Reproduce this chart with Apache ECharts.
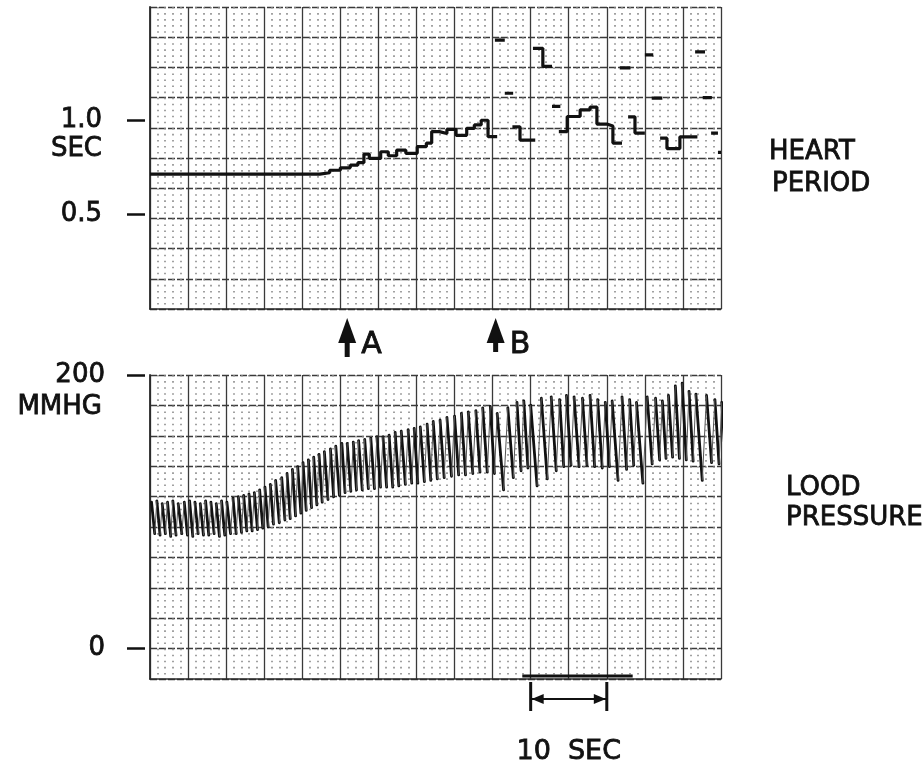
<!DOCTYPE html>
<html>
<head>
<meta charset="utf-8">
<title>Heart period and blood pressure</title>
<script src="https://cdn.jsdelivr.net/npm/echarts@6/dist/echarts.min.js"></script>
<style>
  html, body { margin: 0; padding: 0; background: #fff; }
  #chart { width: 922px; height: 769px; }
</style>
</head>
<body>
<div id="chart"></div>
<script>
// heart period trace: one horizontal pen segment per beat (time in sec, period in sec)
const hpStart = [0, 22.3, 23.6, 25.0, 26.3, 27.3, 28.1, 28.8, 30.3, 31.3, 32.4, 33.6, 35.1, 36.3, 37.0, 38.0,
  39.0, 40.2, 41.6, 42.6, 43.5, 44.4, 45.3, 46.6, 47.6, 48.6, 50.3, 51.6, 52.8, 53.7, 54.8, 56.5,
  57.8, 58.7, 60.0, 60.8, 61.7, 62.8, 63.7, 65.0, 65.9, 67.0, 67.9, 69.6, 71.6, 72.6, 73.7, 74.6]
const hpEnd = [22.3, 23.6, 25.0, 26.3, 27.3, 28.1, 28.8, 30.3, 31.3, 32.4, 33.6, 35.1, 36.3, 37.0, 38.0, 39.0,
  40.2, 41.6, 42.6, 43.5, 44.4, 45.6, 46.6, 47.7, 48.6, 50.6, 51.6, 52.8, 53.9, 54.8, 56.5, 57.8,
  58.7, 60.0, 60.8, 62.0, 63.1, 63.7, 65.0, 66.1, 67.3, 67.9, 69.6, 71.9, 72.9, 73.8, 74.6, 75.0]
const hpVal = [0.715, 0.722, 0.735, 0.748, 0.762, 0.775, 0.821, 0.798, 0.833, 0.812, 0.842, 0.825, 0.86, 0.879, 0.94, 0.93,
  0.952, 0.92, 0.957, 0.975, 1.0, 0.913, 1.425, 1.143, 0.965, 0.895, 1.381, 1.285, 1.073, 0.94, 1.02, 1.055,
  1.07, 0.98, 0.97, 0.879, 1.277, 1.018, 0.932, 1.346, 1.117, 0.905, 0.85, 0.912, 1.362, 1.12, 0.932, 0.83]

// blood pressure: one entry per beat (beat time in sec, systolic / diastolic in mmHg)
const bpT = [0.2, 0.9, 1.6, 2.3, 3.0, 3.7, 4.5, 5.2, 5.9, 6.6, 7.3, 8.0, 8.7, 9.4, 10.1, 10.9,
  11.6, 12.3, 13.0, 13.7, 14.4, 15.1, 15.8, 16.5, 17.3, 18.0, 18.7, 19.4, 20.1, 20.8, 21.5, 22.2,
  22.9, 23.7, 24.4, 25.2, 25.9, 26.7, 27.4, 28.2,
  29.0, 29.8, 30.6, 31.4, 32.2, 33.0, 33.9, 34.7, 35.5, 36.4, 37.2, 38.1, 39.0, 40.0, 40.9, 41.8, 42.8, 43.7, 44.7,
  45.6, 47.0, 48.2, 49.1, 50.0, 51.4, 52.7, 53.8, 54.7, 55.7, 56.8, 57.8, 58.8, 59.8, 60.7, 62.0,
  63.0, 63.9, 65.3, 66.4, 67.3, 68.1, 69.0, 69.9, 70.8, 71.7, 73.1, 74.2, 75.1]
const bpSys = [107, 108, 106, 107, 108, 106, 107, 108, 107, 106, 108, 107, 106, 108, 107, 110,
  111, 112, 113, 114, 116, 118, 120, 123, 125, 128, 131, 133, 136, 138, 140, 142,
  144, 146, 148, 150, 150, 151, 152, 153,
  154, 155, 155, 156, 158, 159, 160, 161, 162, 164, 166, 167, 169, 170, 172, 173, 174, 176, 177,
  172, 176, 180, 181, 178, 183, 184, 182, 185, 184, 183, 185, 182, 180, 181, 184,
  182, 180, 184, 183, 181, 185, 192, 194, 188, 186, 185, 182, 180]
const bpDia = [84, 83, 84, 82, 83, 84, 83, 82, 84, 83, 83, 84, 82, 83, 84, 84,
  85, 86, 86, 87, 88, 89, 91, 92, 94, 95, 97, 99, 101, 103, 105, 107,
  109, 111, 112, 114, 115, 116, 116, 117,
  117, 118, 118, 118, 119, 120, 121, 121, 122, 123, 124, 125, 126, 127, 127, 128, 129, 129, 128,
  116, 125, 130, 132, 119, 124, 130, 133, 134, 133, 134, 133, 132, 133, 123, 131,
  134, 121, 135, 138, 139, 140, 139, 138, 137, 123, 136, 135, 134]

const periodTicks = [0.5, 1.0]
const pressureTicks = [0, 200]
const eventT = [25.9, 45.4]
const eventLabel = ['A', 'B']
const scaleBarT = [50, 60]
const timerMarkT = [48.9, 63.4]

const FONT = '"DejaVu Sans", sans-serif'
const INK = '#111'

function periodLine() {
  const out = []
  for (let i = 0; i < hpVal.length; i++) {
    // big jumps of the pen leave no ink on the paper
    if (i > 0 && Math.abs(hpVal[i] - hpVal[i - 1]) > 0.1) out.push([hpStart[i], '-'])
    out.push([hpStart[i], hpVal[i]], [hpEnd[i], hpVal[i]])
  }
  return out
}

// falling part of each beat (slow pen, dark) and the fast rise (faint)
function pressureStrokes(falling) {
  const out = []
  for (let i = 0; i < bpT.length; i++) {
    const next = i < bpT.length - 1 ? bpT[i + 1] : bpT[i] + (bpT[i] - bpT[i - 1])
    const tDia = bpT[i] + 0.6 * (next - bpT[i])
    if (falling) {
      out.push([bpT[i], bpSys[i]], [tDia, bpDia[i]], [tDia, '-'])
    } else if (i < bpT.length - 1) {
      out.push([tDia, bpDia[i]], [next, bpSys[i + 1]], [next, '-'])
    }
  }
  return out
}

function timeAxis(gridIndex, dotGap) {
  return {
    type: 'value', gridIndex, min: 0, max: 75, interval: 5,
    axisLine: { show: true, onZero: false, lineStyle: { color: '#2a2a2a', width: 1.5 } },
    axisTick: { show: false },
    axisLabel: { show: false },
    splitLine: { show: true, lineStyle: { color: '#3a3a3a', width: 1.3 } },
    minorTick: { show: false, splitNumber: 5 },
    minorSplitLine: { show: true, lineStyle: { color: '#8a8a8a', width: 1.6, type: [1.6, dotGap] } }
  }
}

function gridLinesAxis(gridIndex) {
  return {
    type: 'value', gridIndex, position: 'left', min: 0, max: 10, interval: 1,
    axisLine: { show: true, onZero: false, lineStyle: { color: '#2a2a2a', width: 1.8 } },
    axisTick: { show: false },
    axisLabel: { show: false },
    splitLine: { show: true, lineStyle: { color: '#3a3a3a', width: 1.3, type: [7, 2] } }
  }
}

function labelAxis(gridIndex, min, max, ticks, fmt, margin) {
  return {
    type: 'value', gridIndex, position: 'left', offset: 5, min, max,
    axisLine: { show: false, onZero: false },
    splitLine: { show: false },
    axisTick: { show: true, customValues: ticks, length: 18, lineStyle: { color: INK, width: 2.5 } },
    axisLabel: {
      show: true, customValues: ticks, margin, formatter: fmt,
      color: INK, fontSize: 26, fontFamily: FONT,
      textBorderColor: INK, textBorderWidth: 0.8
    }
  }
}

const chart = echarts.init(document.getElementById('chart'))

chart.setOption({
  animation: false,
  backgroundColor: '#fff',
  grid: [
    { left: 150, top: 7, width: 571, height: 302 },
    { left: 150, top: 375, width: 571, height: 304 }
  ],
  xAxis: [timeAxis(0, 4.44), timeAxis(1, 4.48)],
  yAxis: [
    gridLinesAxis(0),
    labelAxis(0, 0, 1.6, periodTicks, v => v.toFixed(1), 43),
    gridLinesAxis(1),
    labelAxis(1, -200 / 9, 200, pressureTicks, v => String(Math.round(v)), 40)
  ],
  series: [
    {
      name: 'Heart period', type: 'line', xAxisIndex: 0, yAxisIndex: 1,
      data: periodLine(), showSymbol: false, connectNulls: false,
      lineStyle: { color: INK, width: 3.2 }
    },
    {
      name: 'Blood pressure', type: 'line', xAxisIndex: 1, yAxisIndex: 3,
      data: pressureStrokes(true), showSymbol: false,
      lineStyle: { color: INK, width: 2.8, cap: 'round' }
    },
    {
      name: 'Blood pressure rise', type: 'line', xAxisIndex: 1, yAxisIndex: 3,
      data: pressureStrokes(false), showSymbol: false,
      lineStyle: { color: '#555', width: 1 }
    }
  ]
})

function text(str, x, y, align, size) {
  return {
    type: 'text', silent: true,
    style: {
      text: str, x, y, align: align, verticalAlign: 'middle', fill: INK,
      stroke: INK, lineWidth: 0.8, font: `${size || 26}px ${FONT}`
    }
  }
}

function buildMarks() {
  const els = [
    text('SEC', 102, 149, 'right'),
    text('MMHG', 102, 407, 'right'),
    text('HEART', 769, 152, 'left'),
    text('PERIOD', 772, 184, 'left'),
    text('LOOD', 786, 488, 'left'),
    text('PRESSURE', 786, 518, 'left')
  ]
  eventT.forEach((t, i) => {
    const x = chart.convertToPixel({ xAxisIndex: 0 }, t)
    els.push({ type: 'polygon', silent: true, shape: { points: [[x, 318], [x - 9, 343], [x + 9, 343]] }, style: { fill: INK } })
    els.push({ type: 'rect', silent: true, shape: { x: x - 2.5, y: 338, width: 5, height: i === 0 ? 19 : 14 }, style: { fill: INK } })
    els.push(text(eventLabel[i], x + 14, 345, 'left', 30))
  })
  const m0 = chart.convertToPixel({ xAxisIndex: 1 }, timerMarkT[0])
  const m1 = chart.convertToPixel({ xAxisIndex: 1 }, timerMarkT[1])
  els.push({ type: 'line', silent: true, shape: { x1: m0, y1: 676, x2: m1, y2: 676 }, style: { stroke: INK, lineWidth: 3 } })
  const x0 = chart.convertToPixel({ xAxisIndex: 1 }, scaleBarT[0])
  const x1 = chart.convertToPixel({ xAxisIndex: 1 }, scaleBarT[1])
  els.push({ type: 'rect', silent: true, shape: { x: x0 - 1.5, y: 682, width: 3, height: 29 }, style: { fill: INK } })
  els.push({ type: 'rect', silent: true, shape: { x: x1 - 1.5, y: 682, width: 3, height: 29 }, style: { fill: INK } })
  els.push({ type: 'line', silent: true, shape: { x1: x0, y1: 699, x2: x1, y2: 699 }, style: { stroke: INK, lineWidth: 2 } })
  els.push({ type: 'polygon', silent: true, shape: { points: [[x0 + 1, 699], [x0 + 13, 694], [x0 + 13, 704]] }, style: { fill: INK } })
  els.push({ type: 'polygon', silent: true, shape: { points: [[x1 - 1, 699], [x1 - 13, 694], [x1 - 13, 704]] }, style: { fill: INK } })
  els.push(text('10  SEC', (x0 + x1) / 2, 752, 'center', 27))
  return els
}

chart.setOption({ graphic: buildMarks() })
</script>
</body>
</html>
